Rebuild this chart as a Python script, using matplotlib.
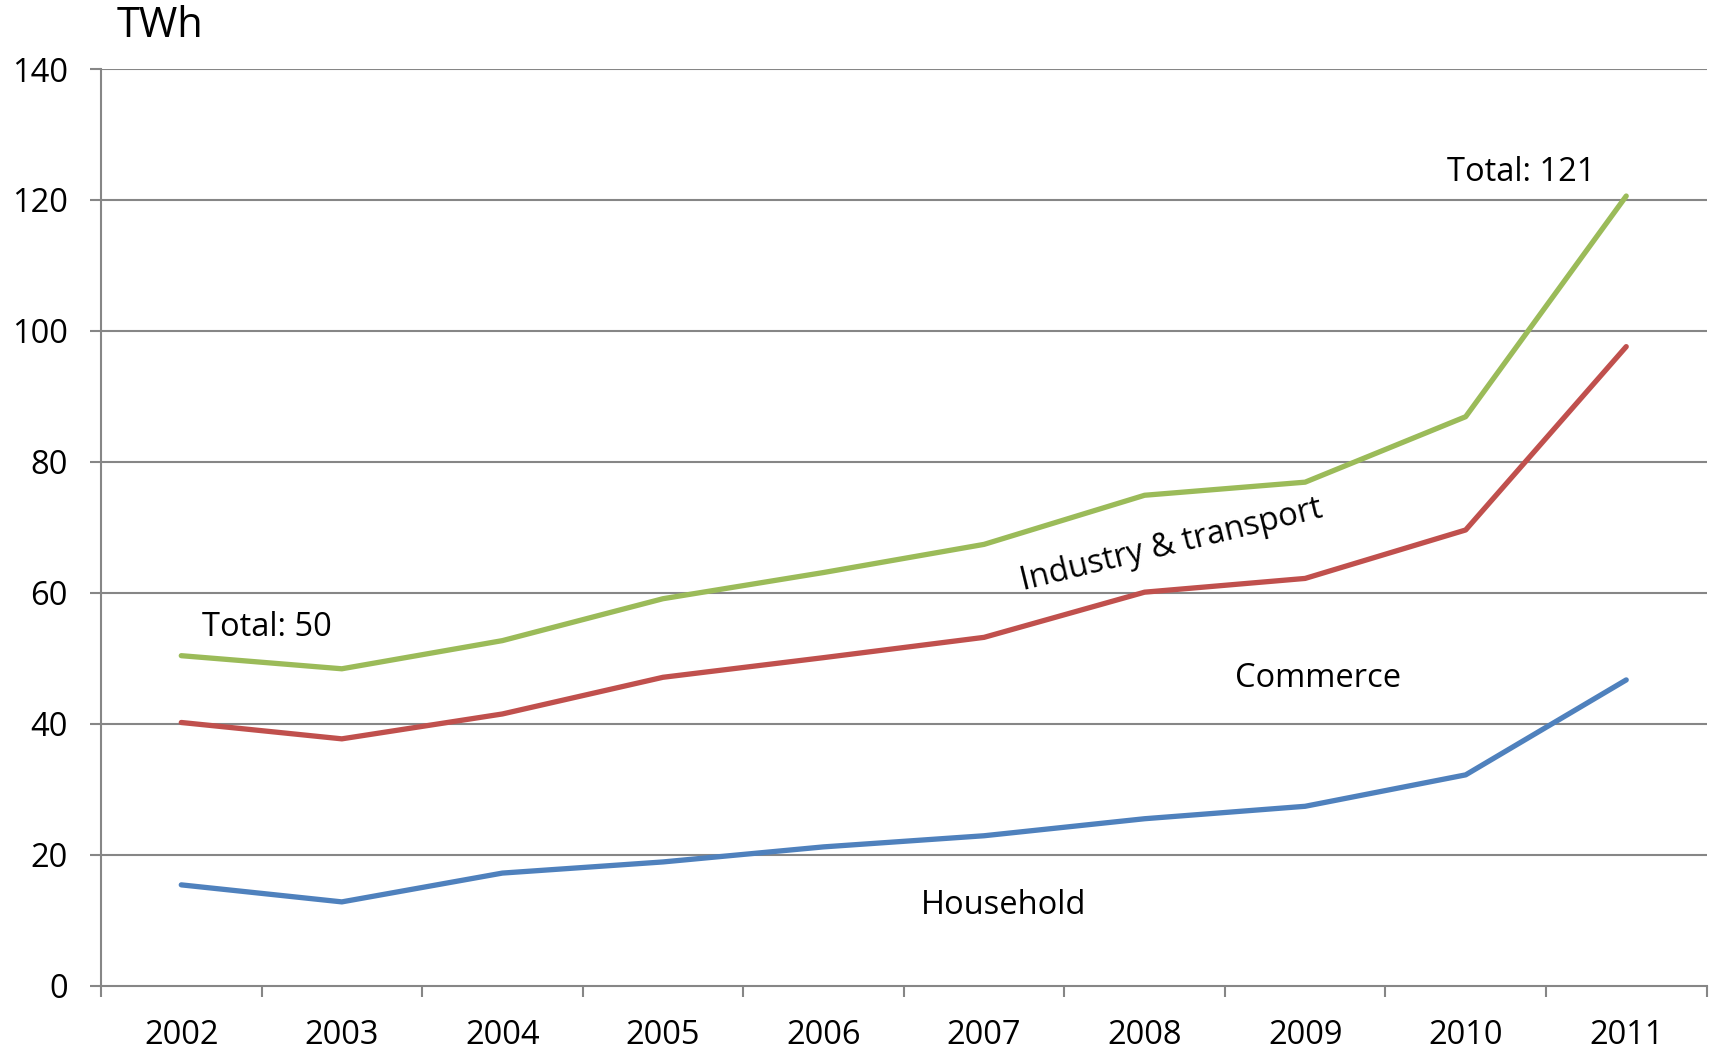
import matplotlib
matplotlib.use("Agg")
import matplotlib.pyplot as plt
import numpy as np

years = ["2002", "2003", "2004", "2005", "2006", "2007", "2008", "2009", "2010", "2011"]
total = [50.4, 48.4, 52.7, 59.1, 63.1, 67.4, 74.9, 76.9, 86.9, 120.6]
industry_commerce = [40.2, 37.7, 41.5, 47.1, 50.1, 53.2, 60.1, 62.2, 69.6, 97.6]
household = [15.4, 12.8, 17.2, 18.9, 21.2, 22.9, 25.5, 27.4, 32.2, 46.7]
yticks = [0, 20, 40, 60, 80, 100, 120, 140]

plt.rcParams['font.family'] = ['Open Sans', 'DejaVu Sans']
FS = 23.5

fig = plt.figure(figsize=(17.13, 10.49), dpi=100)
ax = fig.add_axes([101/1713, 1-985.7/1049, (1706.5-101)/1713, (985.7-69)/1049])

x = np.arange(len(years))
grid_c = "#868686"
for yt in yticks[1:]:
    ax.axhline(yt, color=grid_c, lw=1.5, zorder=1)

ax.plot(x, household, color="#4F81BD", lw=3.8, solid_capstyle='round', zorder=3)
ax.plot(x, industry_commerce, color="#C0504D", lw=3.8, solid_capstyle='round', zorder=3)
ax.plot(x, total, color="#9BBB59", lw=3.8, solid_capstyle='round', zorder=3)

ax.set_xlim(-0.5, len(years) - 0.5)
ax.set_ylim(0, 140)
ax.set_yticks(yticks)
ax.set_yticklabels([str(v) for v in yticks], fontsize=FS)
ax.set_xticks(np.arange(-0.5, len(years), 1.0))
ax.set_xticklabels([])
ax.set_xticks(x, minor=True)
ax.set_xticklabels(years, minor=True, fontsize=FS)
ax.tick_params(axis='x', which='major', length=8, width=1.5, color=grid_c, direction='out')
ax.tick_params(axis='x', which='minor', length=0, pad=24)
ax.tick_params(axis='y', length=8, width=1.5, color=grid_c, direction='out', pad=16)

for s in ['top', 'right']:
    ax.spines[s].set_visible(False)
for s in ['left', 'bottom']:
    ax.spines[s].set_color(grid_c)
    ax.spines[s].set_linewidth(1.5)

ax.text(0.532, 54.7, "Total: 50", fontsize=FS, ha='center', va='center')
ax.text(8.346, 124.2, "Total: 121", fontsize=FS, ha='center', va='center')
ax.text(6.167, 67.2, "Industry & transport", fontsize=FS, ha='center', va='center', rotation=13.7)
ax.text(7.08, 46.9, "Commerce", fontsize=FS, ha='center', va='center')
ax.text(5.12, 12.2, "Household", fontsize=FS, ha='center', va='center')

fig.text(117/1713, 1-26/1049, "TWh", fontsize=30, ha='left', va='center')

fig.savefig("out.png", dpi=100)
